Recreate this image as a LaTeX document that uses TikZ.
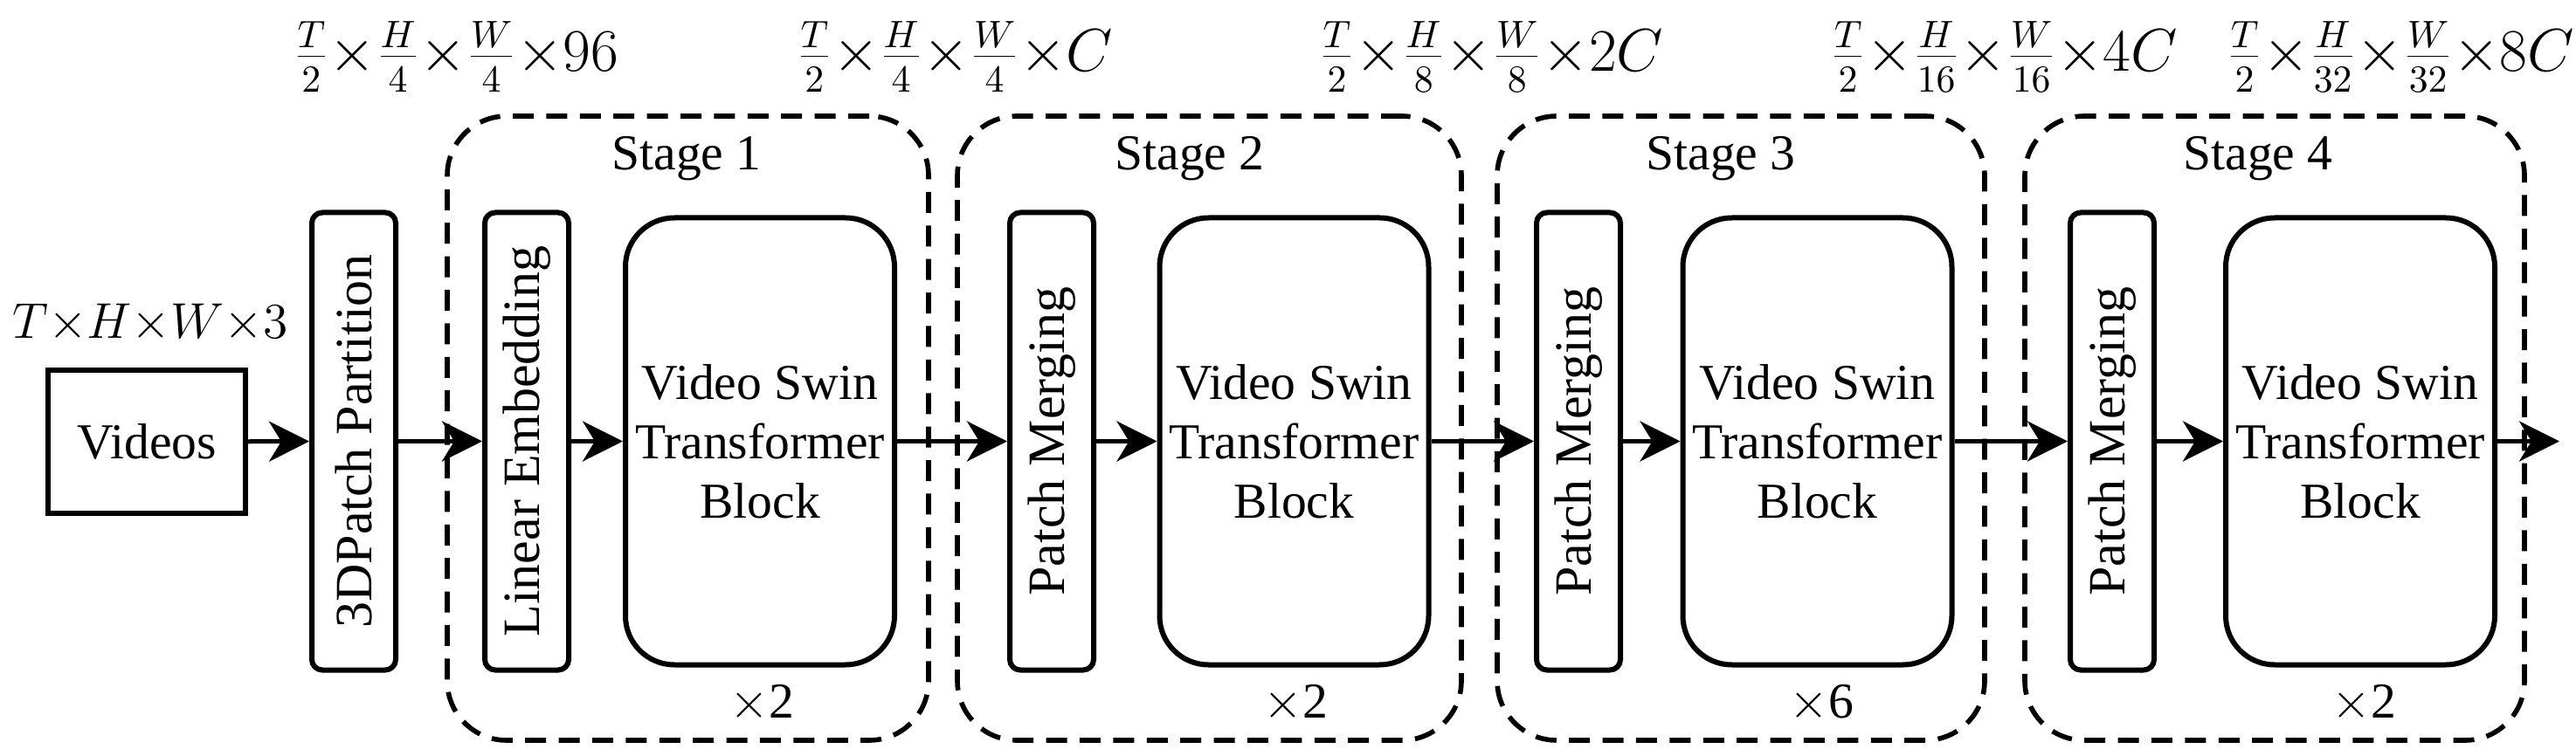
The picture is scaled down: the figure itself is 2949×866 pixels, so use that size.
\documentclass[tikz,border=0pt]{standalone}
\usepackage{fontspec}
\setmainfont{Liberation Serif}
\newfontfamily\tnr{Liberation Serif}
\usetikzlibrary{arrows.meta}
\begin{document}
\begin{tikzpicture}[x=0.25pt,y=-0.25pt,
  every node/.style={font=\tnr\fontsize{14.4}{17}\selectfont, inner sep=0pt},
  dimlabel/.style={font=\fontsize{16}{19}\selectfont},
  plainbox/.style={draw, line width=1.5pt, minimum width=56.5pt, minimum height=41pt},
  thinbox/.style={draw, line width=1.5pt, rounded corners=3pt, rotate=90, minimum width=131pt, minimum height=24pt, font=\tnr\fontsize{15}{18}\selectfont},
  blockbox/.style={draw, line width=1.5pt, rounded corners=14pt, minimum width=77pt, minimum height=128pt, align=center},
  stagebox/.style={draw, line width=1.4pt, dash pattern=on 6pt off 3.6pt, rounded corners=17pt, minimum height=178.75pt},
  arr/.style={line width=1.25pt, -{Stealth[length=11.5pt, width=11.5pt, inset=3.5pt]}}
]
\useasboundingbox[fill=white] (0,0) rectangle (2949,866);
% stage boxes
\node[stagebox, minimum width=137.75pt] (s1) at (787.5,490.5) {};
\node[stagebox, minimum width=144.25pt] (s2) at (1384.5,490.5) {};
\node[stagebox, minimum width=139.5pt] (s3) at (1993,490.5) {};
\node[stagebox, minimum width=143pt] (s4) at (2604,490.5) {};
\node (s1l) at (786,182) {Stage 1};
\node (s2l) at (1362,182) {Stage 2};
\node (s3l) at (1970,182) {Stage 3};
\node (s4l) at (2585,182) {Stage 4};
% input
\node[plainbox] (vid) at (168,506) {Videos};
\node[font=\fontsize{14.4}{17}\selectfont] (inl) at (172,370) {$T{\times}H{\times}W{\times}3$};
% blocks
\node[thinbox] (p3d) at (405,505.5) {3DPatch Partition};
\node[thinbox] (lin) at (603,505.5) {Linear Embedding};
\node[blockbox] (b1) at (870,505.5) {Video Swin\\Transformer\\Block};
\node[thinbox] (pm2) at (1204,505.5) {Patch Merging};
\node[blockbox] (b2) at (1481.5,505.5) {Video Swin\\Transformer\\Block};
\node[thinbox] (pm3) at (1807,505.5) {Patch Merging};
\node[blockbox] (b3) at (2080.5,505.5) {Video Swin\\Transformer\\Block};
\node[thinbox] (pm4) at (2418,505.5) {Patch Merging};
\node[blockbox] (b4) at (2702,505.5) {Video Swin\\Transformer\\Block};
\coordinate (out) at (2930,505.5);
% repeat counts
\node (r1) at (872,806) {$\times$2};
\node (r2) at (1483,806) {$\times$2};
\node (r3) at (2085,806) {$\times$6};
\node (r4) at (2706,806) {$\times$2};
% dimension labels
\node[dimlabel] (d1) at (522,65) {$\frac{T}{2}{\times}\frac{H}{4}{\times}\frac{W}{4}{\times}96$};
\node[dimlabel] (d2) at (1093,65) {$\frac{T}{2}{\times}\frac{H}{4}{\times}\frac{W}{4}{\times}C$};
\node[dimlabel] (d3) at (1707,65) {$\frac{T}{2}{\times}\frac{H}{8}{\times}\frac{W}{8}{\times}2C$};
\node[dimlabel] (d4) at (2294,65) {$\frac{T}{2}{\times}\frac{H}{16}{\times}\frac{W}{16}{\times}4C$};
\node[dimlabel] (d5) at (2748,65) {$\frac{T}{2}{\times}\frac{H}{32}{\times}\frac{W}{32}{\times}8C$};
% arrows
\draw[arr] (vid) -- (p3d);
\draw[arr] (p3d) -- (lin);
\draw[arr] (lin) -- (b1);
\draw[arr] (b1) -- (pm2);
\draw[arr] (pm2) -- (b2);
\draw[arr] (b2) -- (pm3);
\draw[arr] (pm3) -- (b3);
\draw[arr] (b3) -- (pm4);
\draw[arr] (pm4) -- (b4);
\draw[arr] (b4) -- (out);
\end{tikzpicture}
\end{document}
